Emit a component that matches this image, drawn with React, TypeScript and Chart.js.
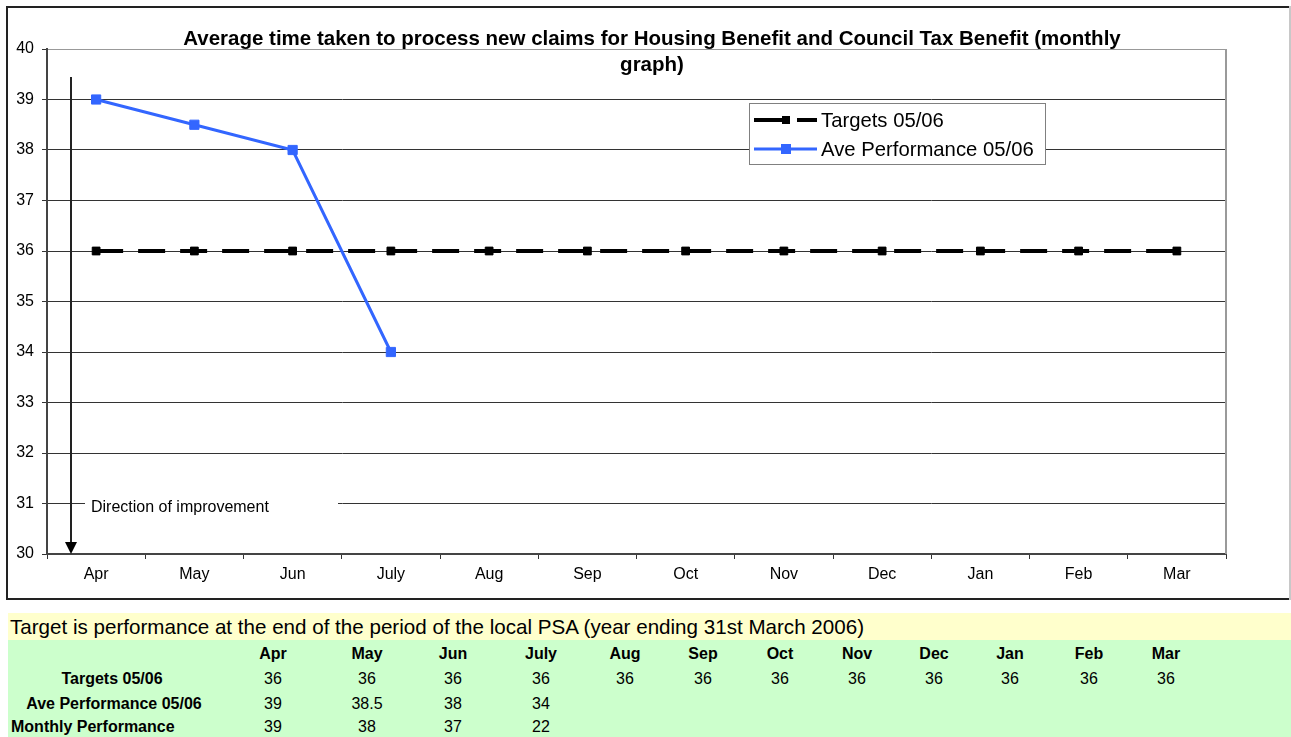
import React, { useEffect, useRef } from "react";
import { Chart, registerables } from "chart.js";

Chart.register(...registerables);

// ---------- data ----------
const months = ["Apr", "May", "Jun", "July", "Aug", "Sep", "Oct", "Nov", "Dec", "Jan", "Feb", "Mar"];
const targets0506 = [36, 36, 36, 36, 36, 36, 36, 36, 36, 36, 36, 36];
const avePerformance0506: (number | null)[] = [39, 38.5, 38, 34, null, null, null, null, null, null, null, null];
const monthlyPerformance: (number | null)[] = [39, 38, 37, 22, null, null, null, null, null, null, null, null];
const seriesNames = ["Targets 05/06", "Ave Performance 05/06"];
const tableRowNames = ["Targets 05/06", "Ave Performance 05/06", "Monthly Performance"];
const titleLines = [
  "Average time taken to process new claims for Housing Benefit and Council Tax Benefit (monthly",
  "graph)",
];
const yMin = 30;
const yMax = 40;
const annotationText = "Direction of improvement";
const tableNote = "Target is performance at the end of the period of the local PSA (year ending 31st March 2006)";

// ---------- layout / style ----------
const FONT = "'Liberation Sans', Arial, Helvetica, sans-serif";
const CANVAS_W = 1291;
const CANVAS_H = 602;
const BLUE = "#3366ff";
const tableColX = [273, 367, 453, 541, 625, 703, 780, 857, 934, 1010, 1089, 1166];

const decorPlugin = {
  id: "decor",
  beforeDraw(chart: any) {
    const ctx = chart.ctx;
    ctx.save();
    ctx.fillStyle = "#ffffff";
    ctx.fillRect(0, 0, chart.width, chart.height);
    ctx.restore();
  },
  afterDraw(chart: any) {
    const ctx: CanvasRenderingContext2D = chart.ctx;
    const ca = chart.chartArea;
    ctx.save();

    // plot area right border
    ctx.strokeStyle = "#9a9a9a";
    ctx.lineWidth = 2;
    ctx.beginPath();
    ctx.moveTo(ca.right, ca.top);
    ctx.lineTo(ca.right, ca.bottom);
    ctx.stroke();

    // outer frame
    ctx.strokeStyle = "#222";
    ctx.lineWidth = 2;
    ctx.beginPath();
    ctx.moveTo(6, 7);
    ctx.lineTo(1291, 7);
    ctx.moveTo(7, 6);
    ctx.lineTo(7, 600);
    ctx.moveTo(6, 599);
    ctx.lineTo(1291, 599);
    ctx.stroke();
    ctx.strokeStyle = "#c8c8c8";
    ctx.beginPath();
    ctx.moveTo(1290, 6);
    ctx.lineTo(1290, 600);
    ctx.stroke();

    // title
    ctx.fillStyle = "#000";
    ctx.font = `bold 20.5px ${FONT}`;
    ctx.textAlign = "center";
    ctx.textBaseline = "alphabetic";
    ctx.fillText(titleLines[0], 652, 45);
    ctx.fillText(titleLines[1], 652, 71);

    // annotation: direction of improvement arrow
    ctx.strokeStyle = "#222";
    ctx.lineWidth = 2;
    ctx.beginPath();
    ctx.moveTo(71, 77);
    ctx.lineTo(71, 544);
    ctx.stroke();
    ctx.fillStyle = "#000";
    ctx.beginPath();
    ctx.moveTo(65, 542);
    ctx.lineTo(77, 542);
    ctx.lineTo(71, 554);
    ctx.closePath();
    ctx.fill();
    ctx.fillStyle = "#fff";
    ctx.fillRect(85, 495, 253, 24);
    ctx.fillStyle = "#000";
    ctx.font = `16px ${FONT}`;
    ctx.textAlign = "left";
    ctx.textBaseline = "middle";
    ctx.fillText(annotationText, 91, 508);

    // legend
    ctx.fillStyle = "#fff";
    ctx.fillRect(750, 104, 296, 60);
    ctx.strokeStyle = "#808080";
    ctx.lineWidth = 1;
    ctx.strokeRect(749.5, 103.5, 296, 61);

    // legend item 1: black dashed
    ctx.strokeStyle = "#000";
    ctx.lineWidth = 4;
    ctx.setLineDash([28, 15]);
    ctx.beginPath();
    ctx.moveTo(754, 120);
    ctx.lineTo(817, 120);
    ctx.stroke();
    ctx.setLineDash([]);
    ctx.fillStyle = "#000";
    ctx.fillRect(782, 116, 8, 8);

    // legend item 2: blue
    ctx.strokeStyle = BLUE;
    ctx.lineWidth = 3;
    ctx.beginPath();
    ctx.moveTo(754, 149);
    ctx.lineTo(817, 149);
    ctx.stroke();
    ctx.fillStyle = BLUE;
    ctx.fillRect(781, 144, 10, 10);

    ctx.fillStyle = "#000";
    ctx.font = `20.3px ${FONT}`;
    ctx.textAlign = "left";
    ctx.textBaseline = "middle";
    ctx.fillText(seriesNames[0], 821, 121);
    ctx.fillText(seriesNames[1], 821, 150);

    ctx.restore();
  },
};

function ChartCanvas() {
  const ref = useRef<HTMLCanvasElement | null>(null);
  useEffect(() => {
    if (!ref.current) return;
    const chart = new Chart(ref.current, {
      type: "line",
      data: {
        labels: months,
        datasets: [
          {
            label: seriesNames[0],
            data: targets0506,
            borderColor: "#000",
            backgroundColor: "#000",
            borderWidth: 4,
            borderDash: [27, 15],
            pointStyle: "rect",
            pointRadius: 5.5,
            pointBorderWidth: 1,
            pointBackgroundColor: "#000",
            pointBorderColor: "#000",
            tension: 0,
            order: 1,
          },
          {
            label: seriesNames[1],
            data: avePerformance0506,
            borderColor: BLUE,
            backgroundColor: BLUE,
            borderWidth: 3,
            pointStyle: "rect",
            pointRadius: 6.5,
            pointBorderWidth: 1,
            pointBackgroundColor: BLUE,
            pointBorderColor: BLUE,
            tension: 0,
            spanGaps: false,
            order: 0,
          },
        ],
      },
      options: {
        responsive: false,
        animation: false,
        devicePixelRatio: 1,
        layout: { padding: { left: 0, right: CANVAS_W - 1226, top: 49, bottom: 8 } },
        plugins: {
          legend: { display: false },
          title: { display: false },
          tooltip: { enabled: false },
        },
        scales: {
          x: {
            offset: true,
            grid: {
              drawOnChartArea: false,
              drawTicks: true,
              tickLength: 5,
              tickColor: "#333",
              offset: true,
            },
            border: { color: "#444", width: 2 },
            ticks: {
              color: "#000",
              font: { family: FONT, size: 16 },
              padding: 6,
              maxRotation: 0,
              autoSkip: false,
            },
            afterFit(scale: any) {
              scale.height = 40;
            },
          },
          y: {
            min: yMin,
            max: yMax,
            grid: {
              color: (c: any) => (c.tick && c.tick.value === yMax ? "#999" : "#333"),
              lineWidth: 1,
              tickLength: 5,
              tickColor: "#333",
            },
            border: { color: "#444", width: 2 },
            ticks: {
              stepSize: 1,
              color: "#000",
              font: { family: FONT, size: 16 },
              padding: 8,
            },
            afterFit(scale: any) {
              scale.width = 47;
            },
          },
        },
      },
      plugins: [decorPlugin],
    });
    return () => chart.destroy();
  }, []);
  return (
    <canvas
      ref={ref}
      width={CANVAS_W}
      height={CANVAS_H}
      style={{ position: "absolute", left: 0, top: 0, width: CANVAS_W, height: CANVAS_H }}
    />
  );
}

function DataTable() {
  const rowY = [654, 679, 704, 727];
  const cell = (text: string, x: number, y: number, bold: boolean, align: "center" | "left" = "center") => (
    <div
      key={`${text}-${x}-${y}`}
      style={{
        position: "absolute",
        left: x,
        top: y - 10,
        height: 20,
        lineHeight: "20px",
        fontFamily: FONT,
        fontSize: 16,
        fontWeight: bold ? "bold" : "normal",
        color: "#000",
        whiteSpace: "nowrap",
        transform: align === "center" ? "translateX(-50%)" : undefined,
      }}
    >
      {text}
    </div>
  );
  const rows = [targets0506, avePerformance0506, monthlyPerformance];
  return (
    <>
      <div style={{ position: "absolute", left: 8, top: 613, width: 1283, height: 27, background: "#ffffcc" }} />
      <div style={{ position: "absolute", left: 8, top: 640, width: 1283, height: 97, background: "#ccffcc" }} />
      <div
        style={{
          position: "absolute",
          left: 10,
          top: 615,
          height: 24,
          lineHeight: "24px",
          fontFamily: FONT,
          fontSize: 20.6,
          color: "#000",
          whiteSpace: "nowrap",
        }}
      >
        {tableNote}
      </div>
      {months.map((m, i) => cell(m, tableColX[i], rowY[0], true))}
      {cell(tableRowNames[0], 112, rowY[1], true)}
      {cell(tableRowNames[1], 114, rowY[2], true)}
      {cell(tableRowNames[2], 11, rowY[3], true, "left")}
      {rows.map((r, ri) =>
        r.map((v, i) => (v === null ? null : cell(String(v), tableColX[i], rowY[ri + 1], false)))
      )}
    </>
  );
}

export default function App() {
  return (
    <div
      style={{
        position: "absolute",
        left: 0,
        top: 0,
        width: 1291,
        height: 737,
        background: "#fff",
        overflow: "hidden",
      }}
    >
      <ChartCanvas />
      <DataTable />
    </div>
  );
}
